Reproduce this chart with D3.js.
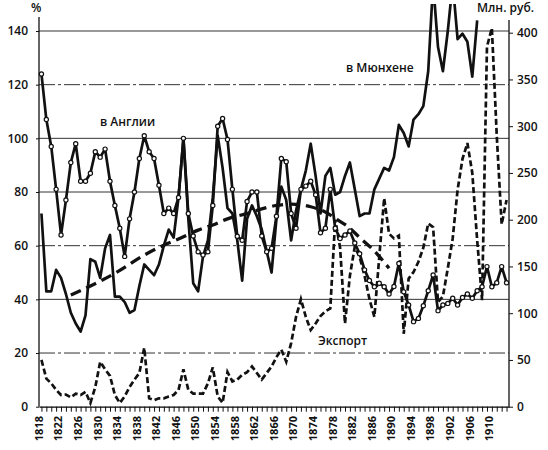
<!DOCTYPE html>
<html>
<head>
<meta charset="utf-8">
<script src="https://cdn.jsdelivr.net/npm/d3@7"></script>
<style>
  body { margin: 0; background: #fff; }
  text { font-family: "Open Sans", sans-serif; fill: #111; }
</style>
</head>
<body>
<div id="chart"></div>
<script>
const width = 548, height = 450;

// one value per year, 1818 onward
const years = d3.range(1818, 1914);
const england = [124, 107, 97, 81, 64, 77, 91, 98, 84, 84,
  87, 95, 93, 96, 84, 75, 66.5, 56, 70, 80,
  92.5, 101, 95, 92.5, 82.5, 72, 74, 72, 78, 100,
  72, 63.6, 57.7, 56.5, 57.7, 75, 104.5, 107.4, 99.6, 81,
  63.5, 62, 76.5, 80, 80, 63.6, 57.7, 59, 71, 92.5,
  91.3, 72, 66.5, 81, 82.2, 84, 79, 64.8, 66.5, 81,
  66.5, 62.7, 64, 65.5, 61, 57, 51, 47, 44.7, 46,
  44.7, 42, 44.8, 53.4, 42.8, 37.9, 31.7, 32.9, 37.6, 43.2,
  49.1, 35.8, 37.9, 38.5, 40.4, 37.9, 40.7, 42, 40.4, 43.2,
  44.7, 52.2, 44.7, 46.2, 52.2, 46.2];
// 1818-1907
const munich = [72, 43, 43, 51, 48, 42, 35, 31, 28, 34,
  55, 54, 48, 59, 64, 41, 41, 39, 35, 36,
  45, 53, 51, 49, 53, 60, 66, 63, 78, 100,
  70, 46, 43, 56, 62, 78, 101, 89, 74, 72,
  62, 47, 70, 75, 71, 66, 58, 50, 70, 82,
  77, 62, 73, 81, 88, 98, 86, 72, 86, 89,
  79, 80, 86, 91, 81, 71, 72, 72, 81, 85,
  89, 88, 93, 105, 102, 97, 107, 109, 112, 125,
  158, 134, 125, 140, 158, 137, 139, 136, 123, 144];
// export, mln rub (right axis)
const exportRub = [50, 30, 25, 18, 12.5, 13, 10, 14, 12.5, 16,
  4, 21, 48, 40, 33, 12.5, 4, 11, 21, 29,
  36, 63, 9, 7, 9, 9, 11, 12.5, 18, 40,
  18, 14, 14, 14, 25, 42, 11, 4, 37, 27,
  29, 34, 37, 43, 36, 29, 36, 43, 53, 61,
  48, 68, 96, 115, 96, 82, 89, 97, 102, 105,
  200, 170, 89, 140, 171, 160, 140, 115, 96, 160,
  223, 185, 180, 183, 78, 137, 144, 155, 170, 196,
  192, 112, 118, 148, 180, 232, 265, 282, 250, 178,
  114, 385, 405, 290, 195, 221];
// trend line, read at a few years
const trendYears = [1824, 1828, 1833, 1839, 1843, 1846, 1850, 1853, 1856, 1860,
  1863, 1866, 1869, 1873, 1876, 1878, 1881, 1883, 1886, 1889];
const trendValues = [41.6, 45, 49.7, 56.5, 60.2, 62.5, 65.8, 67.7, 70, 72,
  73.7, 75, 75.5, 74.5, 72.5, 70.2, 66.5, 63, 58, 51.6];

const leftTicks = [0, 20, 40, 60, 80, 100, 120, 140];
const rightTicks = [0, 50, 100, 150, 200, 250, 300, 350, 400];
const dashDotLevels = [20, 60, 120];
const xLabelYears = d3.range(1818, 1911, 4);

const svg = d3.select('#chart').append('svg')
  .attr('width', width)
  .attr('height', height);

const x = d3.scaleLinear().domain([1817.5, 1913.5]).range([39, 509]);
const yL = d3.scaleLinear().domain([0, 140]).range([406.7, 31]);
const yR = d3.scaleLinear().domain([0, 400]).range([406.7, 32.7]);

svg.append('clipPath').attr('id', 'plot')
  .append('rect').attr('x', 36).attr('y', 4).attr('width', 476).attr('height', 404);

// gridlines
svg.append('g').selectAll('line')
  .data(leftTicks.filter(d => d > 0))
  .join('line')
  .attr('x1', x.range()[0]).attr('x2', x.range()[1])
  .attr('y1', d => yL(d)).attr('y2', d => yL(d))
  .attr('stroke', '#333')
  .attr('stroke-width', 1)
  .attr('stroke-dasharray', d => dashDotLevels.includes(d) ? '16,3,3,3' : null);

// axes
const left = svg.append('g')
  .attr('transform', `translate(${x.range()[0]},0)`)
  .call(d3.axisLeft(yL).tickValues(leftTicks).tickSize(3).tickPadding(8));
left.select('.domain').remove();
left.append('line').attr('y1', yL(0)).attr('y2', 17).attr('stroke', '#111').attr('stroke-width', 1.3);

const right = svg.append('g')
  .attr('transform', `translate(${x.range()[1]},0)`)
  .call(d3.axisRight(yR).tickValues(rightTicks).tickSize(4).tickPadding(4));
right.select('.domain').remove();
right.append('line').attr('y1', yR(0)).attr('y2', 20).attr('stroke', '#111').attr('stroke-width', 1.3);

const bottom = svg.append('g')
  .attr('transform', `translate(0,${yL(0)})`)
  .call(d3.axisBottom(x).tickValues(years).tickSize(5).tickSizeOuter(0).tickFormat(''));
bottom.select('.domain').attr('stroke-width', 1.3);

svg.selectAll('.tick line').attr('stroke', '#111');
svg.selectAll('.tick text')
  .style('font-family', '"Open Sans", sans-serif')
  .style('font-size', '12px')
  .style('font-weight', 600)
  .attr('fill', '#111');

svg.append('g').selectAll('text')
  .data(xLabelYears)
  .join('text')
  .attr('transform', d => `translate(${x(d) - 2.5},416) rotate(-90)`)
  .attr('dy', '0.35em')
  .attr('text-anchor', 'end')
  .style('font-size', '11px')
  .style('font-weight', 700)
  .text(d => d);

// series
const plot = svg.append('g').attr('clip-path', 'url(#plot)');

const lineLeft = d3.line().x((d, i) => x(years[i])).y(d => yL(d));
const lineRight = d3.line().x((d, i) => x(years[i])).y(d => yR(d));

plot.append('path')
  .datum(exportRub)
  .attr('d', lineRight)
  .attr('fill', 'none')
  .attr('stroke', '#111')
  .attr('stroke-width', 2.7)
  .attr('stroke-dasharray', '6,3');

plot.append('path')
  .datum(trendValues)
  .attr('d', d3.line().x((d, i) => x(trendYears[i])).y(d => yL(d)).curve(d3.curveMonotoneX))
  .attr('fill', 'none')
  .attr('stroke', '#111')
  .attr('stroke-width', 3.3)
  .attr('stroke-dasharray', '11,6');

plot.append('path')
  .datum(munich)
  .attr('d', lineLeft)
  .attr('fill', 'none')
  .attr('stroke', '#111')
  .attr('stroke-width', 2.7)
  .attr('stroke-linejoin', 'round');

plot.append('path')
  .datum(england)
  .attr('d', lineLeft)
  .attr('fill', 'none')
  .attr('stroke', '#111')
  .attr('stroke-width', 2.7)
  .attr('stroke-linejoin', 'round');

plot.append('g').selectAll('circle')
  .data(england)
  .join('circle')
  .attr('cx', (d, i) => x(years[i]))
  .attr('cy', d => yL(d))
  .attr('r', 2.1)
  .attr('fill', '#fff')
  .attr('stroke', '#111')
  .attr('stroke-width', 1.2);

// labels
const label = (tx, ty, s, size) => svg.append('text')
  .attr('x', tx).attr('y', ty)
  .style('font-size', size + 'px')
  .style('font-weight', 600)
  .text(s);

label(100, 126, 'в Англии', 12);
label(346, 72, 'в Мюнхене', 12);
label(318, 345, 'Экспорт', 12);
label(31, 12, '%', 12);
label(477, 12, 'Млн. руб.', 12);
</script>
</body>
</html>
